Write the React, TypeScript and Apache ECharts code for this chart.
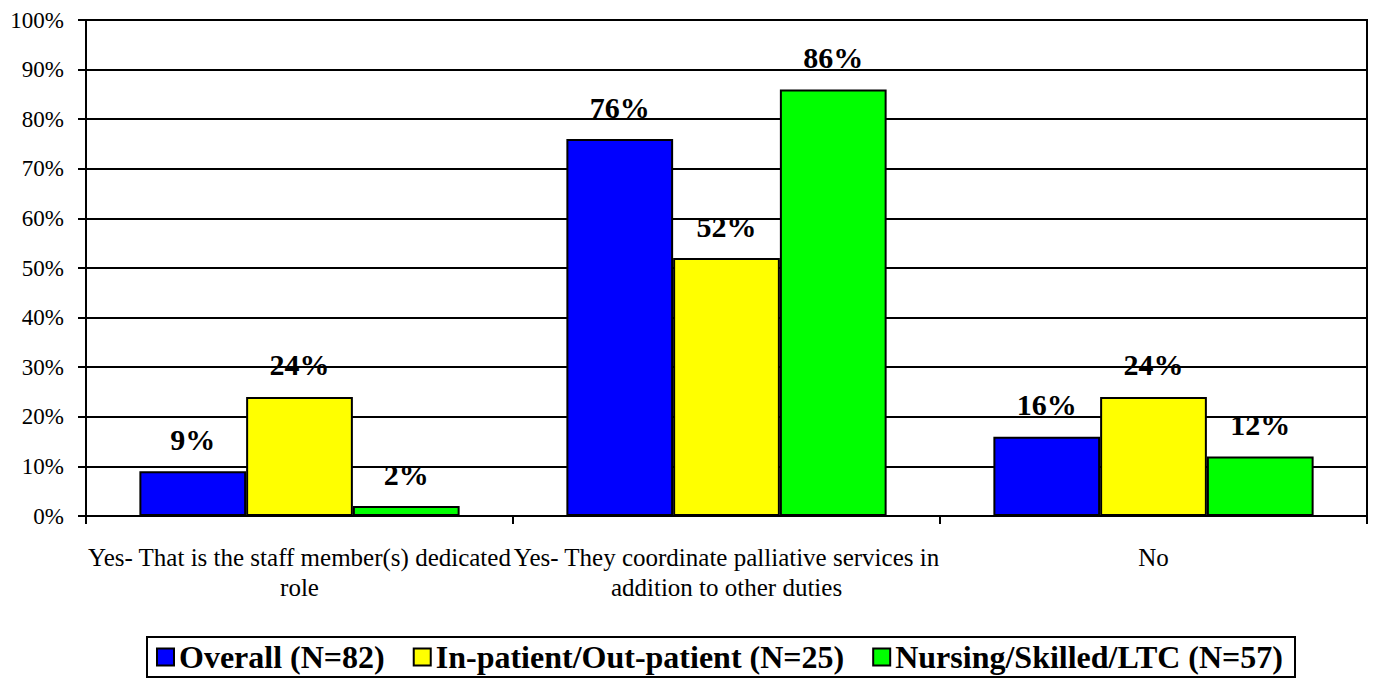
import React, { useEffect, useRef } from "react";
import * as echarts from "echarts";

const categories = [
  "Yes- That is the staff member(s) dedicated\nrole",
  "Yes- They coordinate palliative services in\naddition to other duties",
  "No",
];
const seriesNames = [
  "Overall (N=82)",
  "In-patient/Out-patient (N=25)",
  "Nursing/Skilled/LTC (N=57)",
];
const overall = [9, 76, 16];
const inOut = [24, 52, 24];
const nursing = [2, 86, 12];
const colors = ["#0000FF", "#FFFF00", "#00FF00"];
const yTicks = [0, 10, 20, 30, 40, 50, 60, 70, 80, 90, 100];

const FONT = "Liberation Serif, Times New Roman, serif";

export default function App() {
  const ref = useRef<HTMLDivElement>(null);
  useEffect(() => {
    document.body.style.margin = "0";
    const chart = echarts.init(ref.current!, null, { renderer: "svg" });
    const data = [overall, inOut, nursing];
    chart.setOption({
      animation: false,
      backgroundColor: "#ffffff",
      grid: {
        left: 86,
        right: 7,
        top: 20,
        bottom: 170,
        show: true,
        borderColor: "#000",
        borderWidth: 2,
      },
      legend: {
        left: 147,
        top: 637,
        icon: "rect",
        itemWidth: 17,
        itemHeight: 17,
        itemGap: 28,
        borderColor: "#000",
        borderWidth: 2,
        padding: [4, 12, 4, 9],
        textStyle: {
          fontFamily: FONT,
          fontWeight: "bold",
          fontSize: 32,
          color: "#000",
        },
        data: seriesNames,
      },
      xAxis: {
        type: "category",
        data: categories,
        axisLine: { lineStyle: { color: "#000", width: 2 } },
        axisTick: { show: true, length: 8, lineStyle: { color: "#000", width: 2 } },
        axisLabel: {
          fontFamily: FONT,
          fontSize: 25,
          color: "#000",
          margin: 26,
          lineHeight: 30,
          interval: 0,
        },
      },
      yAxis: {
        type: "value",
        min: 0,
        max: 100,
        interval: 10,
        axisLine: { show: true, lineStyle: { color: "#000", width: 2 } },
        axisTick: { show: true, length: 8, lineStyle: { color: "#000", width: 2 } },
        splitLine: { lineStyle: { color: "#000", width: 2 } },
        axisLabel: {
          fontFamily: FONT,
          fontSize: 23,
          color: "#000",
          margin: 22,
          formatter: (v: number) => (yTicks.includes(v) ? v + "%" : ""),
        },
      },
      series: seriesNames.map((name, i) => ({
        name,
        type: "bar",
        data: data[i],
        barGap: "0%",
        barCategoryGap: "25%",
        itemStyle: { color: colors[i], borderColor: "#000", borderWidth: 2 },
        label: {
          show: true,
          position: "top",
          distance: 17,
          formatter: "{c}%",
          fontFamily: FONT,
          fontWeight: "bold",
          fontSize: 30,
          color: "#000",
        },
      })),
    });
    return () => chart.dispose();
  }, []);
  return <div ref={ref} style={{ width: 1374, height: 686 }} />;
}
